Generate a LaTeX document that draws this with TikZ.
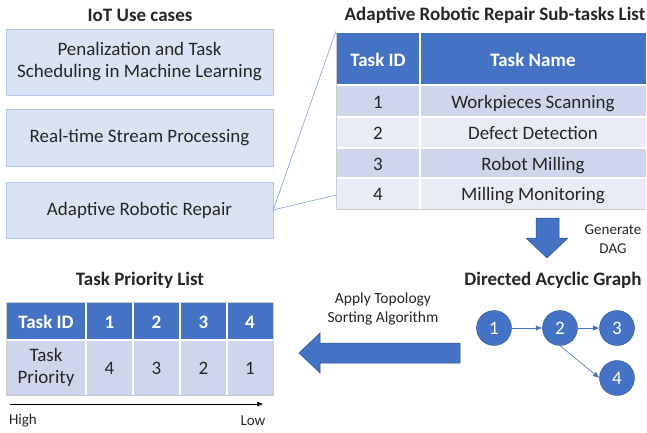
\documentclass[tikz,border=0pt]{standalone}
\usepackage{fontspec}
\setmainfont{Carlito}
\usepackage{xcolor}
\usetikzlibrary{arrows.meta}

\definecolor{hdblue}{HTML}{4472C4}
\definecolor{hdline}{HTML}{2F528F}
\definecolor{rowa}{HTML}{CFD5EA}
\definecolor{rowb}{HTML}{E9EBF5}
\definecolor{ucfill}{HTML}{DAE3F3}
\definecolor{ucline}{HTML}{B4C7E7}
\definecolor{callout}{HTML}{8FAADC}

\tikzset{
  usecase/.style={draw=ucline,fill=ucfill,minimum width=267pt,inner sep=0pt,align=center,
    font=\fontsize{19}{22}\selectfont,text=black!85},
  heading/.style={font=\fontsize{19}{22}\selectfont\bfseries,text=black!85},
  cell/.style={font=\fontsize{19}{22}\selectfont,text=black!85,align=center,inner sep=0pt},
  bcell/.style={cell,anchor=base},
  hcell/.style={font=\fontsize{19}{22}\selectfont\bfseries,text=white,inner sep=0pt,anchor=base},
  note/.style={font=\fontsize{15.5}{19}\selectfont,text=black!85,align=center,inner sep=0pt},
  dagnode/.style={circle,draw=hdline,fill=hdblue,minimum size=35pt,inner sep=0pt,
    font=\fontsize{19}{22}\selectfont,text=white},
  dagedge/.style={draw=hdblue,line width=.6pt,-{Triangle[length=6pt,width=5pt]},shorten >=.5pt},
  gridline/.style={draw=white,line width=1.2pt},
  blockarrow/.style={fill=hdblue,draw=hdline,line width=.5pt}
}

\begin{document}
\begin{tikzpicture}[x=1pt,y=-1pt]
  \useasboundingbox (0,0) rectangle (647,432);

  \node (ucti) [heading] at (140,15) {IoT Use cases};
  \node (uc1) [usecase,minimum height=66pt] at (139.5,62) {Penalization and Task\\Scheduling in Machine Learning};
  \node (uc2) [usecase,minimum height=57pt] at (139.5,137.5) {Real-time Stream Processing};
  \node (uc3) [usecase,minimum height=56pt] at (139.5,210) {Adaptive Robotic Repair};

  \node (stti) [heading] at (495,15) {Adaptive Robotic Repair Sub-tasks List};
  \fill[hdblue] (336,33) rectangle (646,85);
  \node (sth1) [hcell] at (378,66.5) {Task ID};
  \node (sth2) [hcell] at (533,66.5) {Task Name};
  \foreach \r/\top/\bot/\name/\fc in {1/85/117/Workpieces Scanning/rowa,2/117/148/Defect Detection/rowb,
      3/148/178/Robot Milling/rowa,4/178/209/Milling Monitoring/rowb} {
    \fill[\fc] (336,\top) rectangle (646,\bot);
    \node (sid\r) [bcell] at (378,{(\top+\bot)/2+7.3}) {\r};
    \node (snm\r) [bcell] at (533,{(\top+\bot)/2+7.3}) {\name};
  }
  \draw[gridline] (420,33) -- (420,209);
  \draw[gridline,line width=2pt] (336,85) -- (646,85);
  \foreach \y in {117,148,178} \draw[gridline] (336,\y) -- (646,\y);
  \draw[black!20,line width=.6pt] (336,33) -- (336,209) -- (646,209);
  \coordinate (stnw) at (336,31);
  \coordinate (stsw) at (336,195);
  \draw[callout,line width=.7pt] (stnw) -- (uc3.east) -- (stsw);

  \draw[blockarrow] (536,218) -- (559,218) -- (559,238) -- (568,238) -- (547,258)
    -- (526,238) -- (536,238) -- cycle;
  \node (gen) [note,font=\fontsize{15}{19}\selectfont] at (613,239) {Generate\\DAG};

  \node (dagti) [heading] at (553,280) {Directed Acyclic Graph};
  \node (n1) [dagnode] at (494,328) {1};
  \node (n2) [dagnode] at (560,328) {2};
  \node (n3) [dagnode] at (617,328) {3};
  \node (n4) [dagnode] at (617,378) {4};
  \draw[dagedge] (n1) -- (n2);
  \draw[dagedge] (n2) -- (n3);
  \draw[dagedge] (n2.south) -- (n4.west);

  \draw[blockarrow] (460,343) -- (320,343) -- (320,333) -- (299,353) -- (320,373)
    -- (320,363) -- (460,363) -- cycle;
  \node (sort) [note] at (383,309) {Apply Topology\\Sorting Algorithm};

  \node (tpti) [heading] at (140,280) {Task Priority List};
  \fill[hdblue] (6,302) rectangle (273,340);
  \fill[rowa] (6,340) rectangle (273,395);
  \node (tph0) [hcell] at (46,328) {Task ID};
  \node (tpr0) [cell] at (46,367.5) {Task\\Priority};
  \foreach \c/\x/\p in {1/109.5/4,2/156.5/3,3/203.5/2,4/250/1} {
    \node (tph\c) [hcell] at (\x,328) {\c};
    \node (tpr\c) [bcell] at (\x,374.5) {\p};
  }
  \foreach \x in {86,133,180,227} \draw[gridline] (\x,302) -- (\x,395);
  \draw[gridline,line width=2pt] (6,340) -- (273,340);
  \draw[black!20,line width=.6pt] (6,302) rectangle (273,395);

  \node (hi) [note,font=\fontsize{15}{19}\selectfont] at (23,421) {High};
  \node (lo) [note,font=\fontsize{15}{19}\selectfont] at (253,421) {Low};
  \coordinate (hiax) at (10,404);
  \coordinate (loax) at (263,404);
  \draw[line width=.6pt,-{Triangle[length=6pt,width=4.5pt]}] (hiax) -- (loax);
\end{tikzpicture}
\end{document}
